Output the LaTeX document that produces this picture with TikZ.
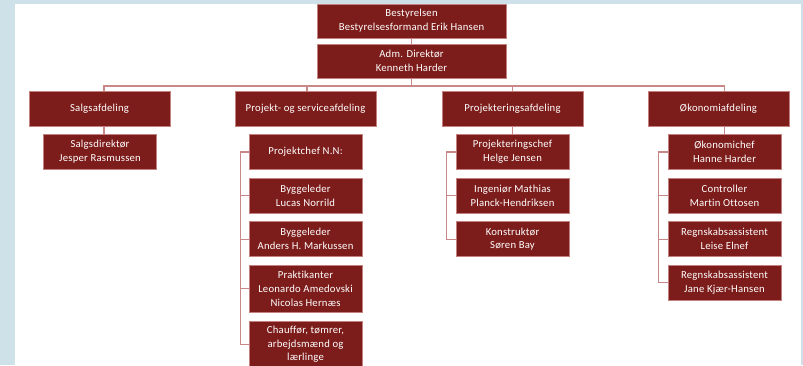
\documentclass[tikz,border=0pt]{standalone}
\usepackage{fontspec}
\setmainfont{Carlito}[LetterSpace=2, Ligatures=CommonOff]
\usetikzlibrary{positioning}
\definecolor{orgred}{RGB}{124,29,27}
\definecolor{orgedge}{RGB}{196,128,126}
\definecolor{orglink}{RGB}{200,136,136}
\definecolor{frameblue}{RGB}{206,224,232}
\tikzset{
  box/.style={draw=orgedge, line width=0.6pt, fill=orgred, text=white, align=center,
              inner sep=1pt, font=\fontsize{10.7}{13.8}\selectfont},
  topbox/.style={box, minimum width=189pt, minimum height=34pt},
  deptbox/.style={box, minimum width=141pt, minimum height=35pt},
  subbox/.style={box, minimum width=113pt, minimum height=35pt},
  tallbox/.style={subbox, minimum height=47pt},
  link/.style={orglink, line width=1.1pt},
}

\begin{document}
\begin{tikzpicture}[x=1pt, y=1pt, node distance=8pt]
    \useasboundingbox (0,0) rectangle (803,365);
    \clip (0,0) rectangle (803,365);
    \fill[frameblue] (0,0) rectangle (803,365);
    \fill[white] (15,0) rectangle (801,361);

    \node[topbox] (bst) at (411.5,344) {Bestyrelsen\\Bestyrelsesformand Erik Hansen};
    \node[topbox] (adm) at (411.5,304) {Adm. Direktør\\Kenneth Harder};

    \node[deptbox] (salg) at (99.5,256.5) {Salgsafdeling};
    \node[deptbox] (proj) at (305.5,256.5) {Projekt- og serviceafdeling};
    \node[deptbox] (prje) at (512.5,256.5) {Projekteringsafdeling};
    \node[deptbox] (okon) at (718.5,256.5) {Økonomiafdeling};

    \node[subbox] (sdir) at (100,213) {Salgsdirektør\\Jesper Rasmussen};

    \node[subbox] (pchef) at (305.5,213) {Projektchef N.N:};
    \node[subbox, below=of pchef] (byg1) {Byggeleder\\Lucas Norrild};
    \node[subbox, below=of byg1] (byg2) {Byggeleder\\Anders H. Markussen};
    \node[tallbox, below=of byg2] (prak) {Praktikanter\\Leonardo Amedovski\\Nicolas Hernæs};
    \node[tallbox, below=of prak] (chauf) {Chauffør, tømrer,\\arbejdsmænd og\\lærlinge};

    \node[subbox] (pjchef) at (512.5,213) {Projekteringschef\\Helge Jensen};
    \node[subbox, below=of pjchef] (ing) {Ingeniør Mathias\\Planck-Hendriksen};
    \node[subbox, below=of ing] (kons) {Konstruktør\\Søren Bay};

    \node[subbox] (ochef) at (724.5,213) {Økonomichef\\Hanne Harder};
    \node[subbox, below=of ochef] (ctrl) {Controller\\Martin Ottosen};
    \node[subbox, below=of ctrl] (regn1) {Regnskabsassistent\\Leise Elnef};
    \node[subbox, below=of regn1] (regn2) {Regnskabsassistent\\Jane Kjær-Hansen};

    \coordinate (bus) at (0,279);
    \draw[link] (bst) -- (adm);
    \draw[link] (adm.south) -- (adm.south |- bus);
    \draw[link] ([xshift=4.5pt]salg.north) |- (ochef.north |- bus) -- (ochef.north |- okon.north);
    \draw[link] ([xshift=1.5pt]proj.north) -- ([xshift=1.5pt]proj.north |- bus);
    \draw[link] (prje.north) -- (prje.north |- bus);

    \draw[link] ([xshift=4.5pt]salg.south) -- ([xshift=4.5pt]salg.south |- sdir.north);
    \draw[link] (prje) -- (pjchef);
    \draw[link] (ochef.north |- okon.south) -- (ochef.north);

    \draw[link] (pchef.west) -- ++(-8,0) |- (chauf.west);
    \draw[link] ([xshift=-8pt]pchef.west) |- (byg1.west);
    \draw[link] ([xshift=-8pt]pchef.west) |- (byg2.west);
    \draw[link] ([xshift=-8pt]pchef.west) |- (prak.west);

    \draw[link] (pjchef.west) -- ++(-9,0) |- (kons.west);
    \draw[link] ([xshift=-9pt]pjchef.west) |- (ing.west);

    \draw[link] (ochef.west) -- ++(-9,0) |- (regn2.west);
    \draw[link] ([xshift=-9pt]ochef.west) |- (ctrl.west);
    \draw[link] ([xshift=-9pt]ochef.west) |- (regn1.west);
\end{tikzpicture}
\end{document}
